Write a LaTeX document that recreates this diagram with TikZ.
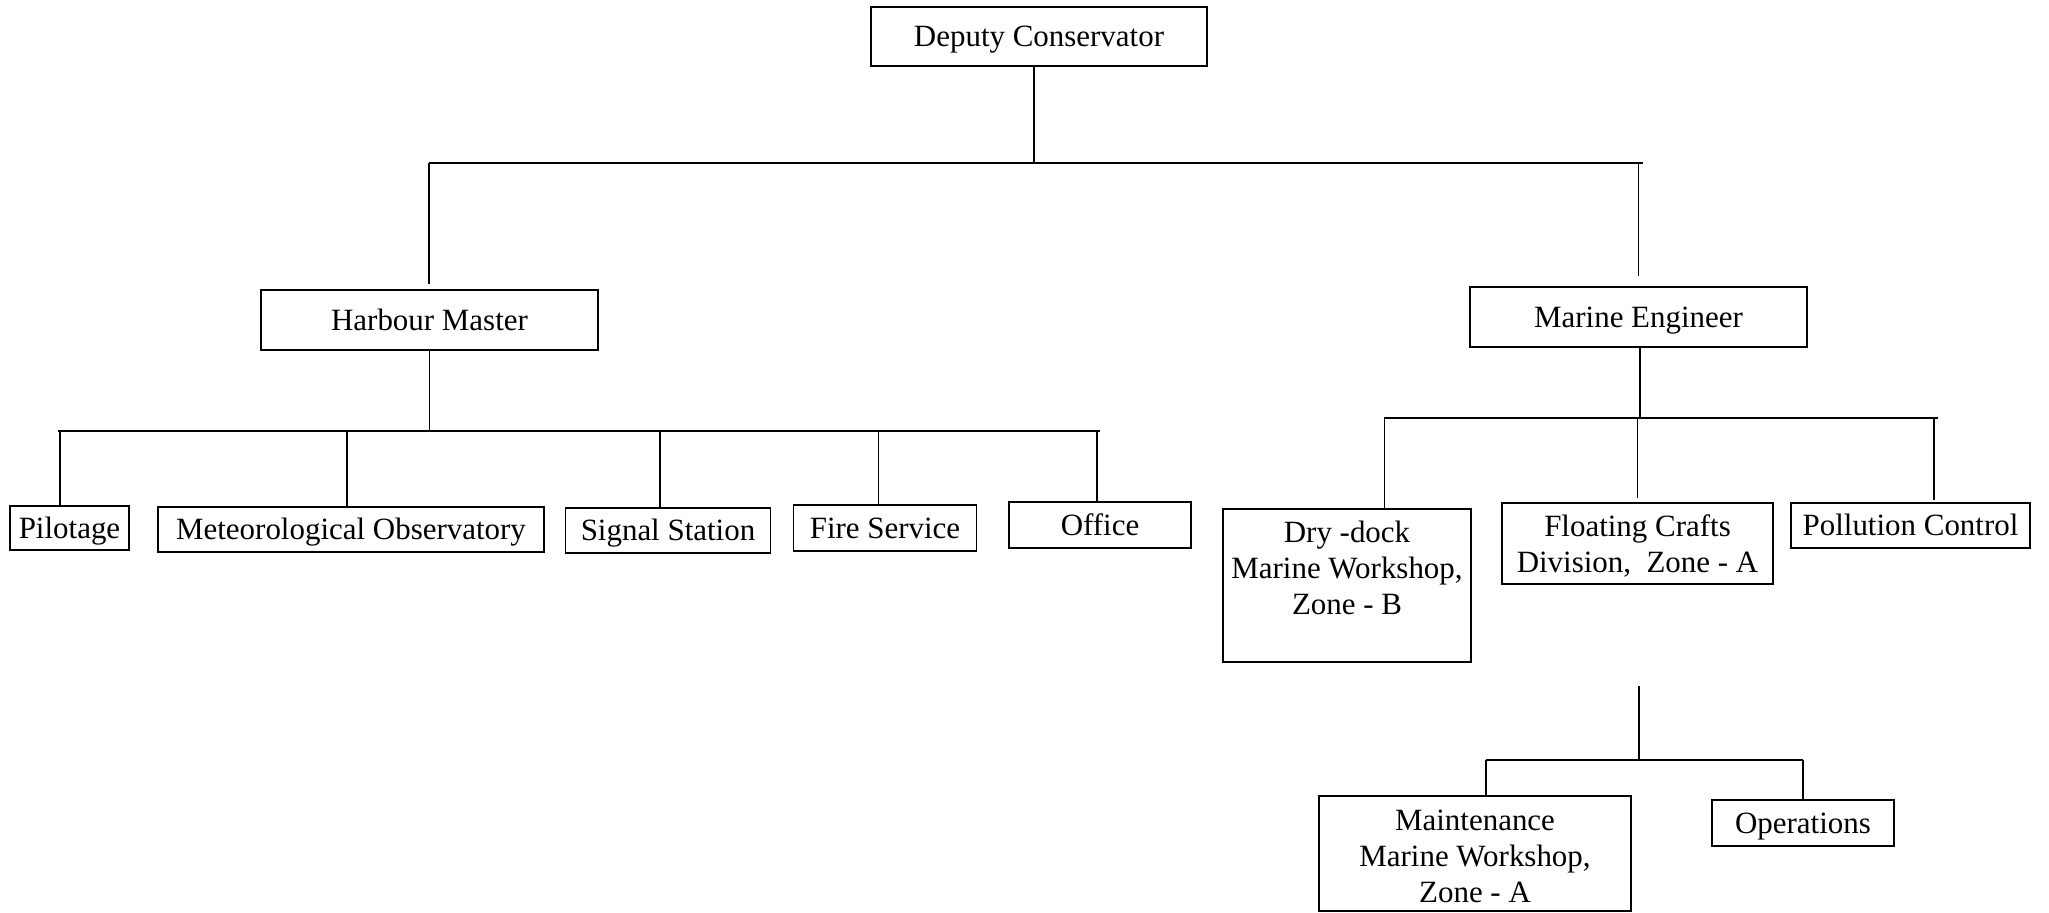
\documentclass[tikz,border=0pt]{standalone}
\usepackage{fontspec}
\setmainfont{Liberation Serif}
\usepackage{tikz}

\tikzset{
    box/.style={draw, line width=0.4pt, inner sep=0pt, align=center,
        font=\fontsize{8.8}{10.2}\selectfont},
    oneline/.style={box, text height=5.7pt, text depth=0pt},
    bus/.style={line width=0.75pt},
    drop/.style={line width=0.5pt}
}

\begin{document}
\begin{tikzpicture}[x=0.01cm, y=-0.01cm]
            \useasboundingbox (0,0) rectangle (2049,913);

            % top level
            \node[oneline, minimum width=3.36cm, minimum height=0.59cm] (dc) at (1039,36.5) {Deputy Conservator};
            \node[oneline, minimum width=3.37cm, minimum height=0.60cm] (hm) at (429.5,320) {Harbour Master};
            \node[oneline, minimum width=3.37cm, minimum height=0.60cm] (me) at (1638.5,317) {Marine Engineer};

            % harbour master side
            \node[oneline, minimum width=1.19cm, minimum height=0.44cm] (pil) at (69.5,528) {Pilotage};
            \node[oneline, minimum width=3.86cm, minimum height=0.45cm] (met) at (351,529.5) {Meteorological Observatory};
            \node[oneline, minimum width=2.05cm, minimum height=0.45cm] (sig) at (668,530.5) {Signal Station};
            \node[oneline, minimum width=1.83cm, minimum height=0.46cm] (fire) at (885,528) {Fire Service};
            \node[oneline, minimum width=1.82cm, minimum height=0.46cm] (off) at (1100,525) {Office};

            % marine engineer side
            \node[box, minimum width=2.48cm, minimum height=1.53cm] (dry) at (1347,585.5) {Dry -dock\\Marine Workshop,\\Zone - B\\\mbox{}};
            \node[box, minimum width=2.71cm, minimum height=0.81cm] (fc) at (1637.5,543.5) {\rule{0pt}{7.7pt}Floating Crafts\\Division, \ Zone - A};
            \node[oneline, minimum width=2.39cm, minimum height=0.45cm] (pol) at (1910.5,525.5) {Pollution Control};
            \node[box, minimum width=3.12cm, minimum height=1.15cm] (mnt) at (1475,853.5) {\rule{0pt}{7.6pt}Maintenance\\Marine Workshop,\\Zone - A};
            \node[oneline, minimum width=1.82cm, minimum height=0.46cm] (ops) at (1803,823) {Operations};

            % bus ends and drop points
            \coordinate (top-l) at (429,163);
            \coordinate (top-r) at (1643,163);
            \coordinate (hm-l) at (57.5,431);
            \coordinate (hm-r) at (1100,431);
            \coordinate (pil-t) at (60,431);
            \coordinate (met-t) at (347,431);
            \coordinate (sig-t) at (660,431);
            \coordinate (fire-t) at (878.5,431);
            \coordinate (off-t) at (1097,431);
            \coordinate (me-l) at (1384,418);
            \coordinate (me-r) at (1938,418);
            \coordinate (dry-t) at (1384.5,418);
            \coordinate (pol-t) at (1934,418);
            \coordinate (fc-s) at (1639,686);
            \coordinate (fc-l) at (1486,760);
            \coordinate (fc-r) at (1803,760);

            \draw[drop] ([xshift=-0.05cm]dc.south) -- ([xshift=-0.05cm]dc.south |- top-l);
            \draw[bus] (top-l) -- (top-r);
            \draw[drop] (top-l) -- ([yshift=0.05cm]hm.north -| top-l);
            \draw[drop] (me.north |- top-r) -- ([yshift=0.1cm]me.north);

            \draw[drop] (hm.south) -- (hm.south |- hm-l);
            \draw[bus] (hm-l) -- (hm-r);
            \draw[drop] (pil-t) -- (pil-t |- pil.north);
            \draw[drop] (met-t) -- (met-t |- met.north);
            \draw[drop] (sig-t) -- (sig-t |- sig.north);
            \draw[drop] (fire-t) -- (fire-t |- fire.north);
            \draw[drop] (off-t) -- (off-t |- off.north);

            \draw[drop] ([xshift=0.015cm]me.south) -- ([xshift=0.015cm]me.south |- me-l);
            \draw[bus] (me-l) -- (me-r);
            \draw[drop] (dry-t) -- (dry-t |- dry.north);
            \draw[drop] (fc.north |- me-l) -- ([yshift=0.04cm]fc.north);
            \draw[drop] (pol-t) -- ([yshift=0.02cm]pol.north -| pol-t);

            \draw[drop] (fc-s) -- (fc-s |- fc-l);
            \draw[bus] (fc-l) -- (fc-r);
            \draw[drop] (fc-l) -- (fc-l |- mnt.north);
            \draw[drop] (fc-r) -- (fc-r |- ops.north);
        \end{tikzpicture}
\end{document}
